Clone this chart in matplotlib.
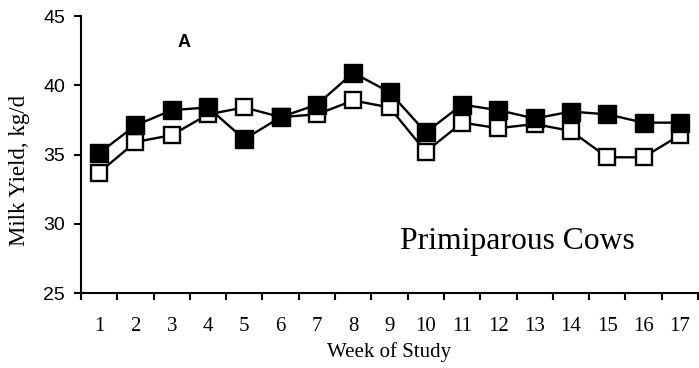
import matplotlib
matplotlib.use("Agg")
import matplotlib.pyplot as plt

weeks = list(range(1, 18))
yield_filled = [35.1, 37.1, 38.2, 38.4, 36.1, 37.7, 38.6, 40.9, 39.5, 36.6,
                38.6, 38.2, 37.6, 38.1, 37.9, 37.3, 37.3]
yield_open = [33.7, 35.9, 36.4, 37.9, 38.4, 37.7, 37.9, 38.9, 38.4, 35.2,
              37.3, 36.9, 37.2, 36.7, 34.8, 34.8, 36.4]
yticks = [25, 30, 35, 40, 45]

fig = plt.figure(figsize=(6.99, 3.68), dpi=100)
ax = fig.add_axes([0.1159, 0.2038, 0.8827, 0.7527])

ax.plot(weeks, yield_open, color="black", lw=1.7, marker="s", ms=11.8,
        mfc="white", mec="black", mew=1.7, zorder=3)
ax.plot(weeks, yield_filled, color="black", lw=1.7, marker="s", ms=12.5,
        mfc="black", mec="black", mew=1, zorder=4)

ax.set_xlim(0.5, 17.5)
ax.set_ylim(25, 45)
ax.set_yticks(yticks)
ax.set_yticklabels([str(v) for v in yticks], family="Liberation Sans", fontsize=14)

# category boundaries carry the tick marks, week numbers sit between them
ax.set_xticks([w + 0.5 for w in [0] + weeks])
ax.set_xticklabels([])
ax.set_xticks(weeks, minor=True)
ax.set_xticklabels([str(w) for w in weeks], minor=True,
                   family="Liberation Serif", fontsize=15)
ax.tick_params(axis="x", which="minor", length=0, pad=17)
ax.tick_params(axis="x", which="major", direction="out", length=5, width=1.5)
ax.tick_params(axis="y", direction="out", length=5, width=1.5, pad=6.5)

for s in ["top", "right"]:
    ax.spines[s].set_visible(False)
for s in ["left", "bottom"]:
    ax.spines[s].set_linewidth(1.5)

ax.set_xlabel("Week of Study", family="Liberation Serif", fontsize=15, labelpad=5)
fig.text(20 / 699, 1 - 170 / 368, "Milk Yield, kg/d", family="Liberation Serif",
         fontsize=16.5, rotation=90, ha="center", va="center")

ax.text(3.35, 43.1, "A", family="Liberation Sans", fontweight="bold",
        fontsize=13, ha="center", va="center")
ax.text(9.3, 28.7, "Primiparous Cows", family="Liberation Serif",
        fontsize=22.8, ha="left", va="center")

fig.savefig("out.png", dpi=100)
